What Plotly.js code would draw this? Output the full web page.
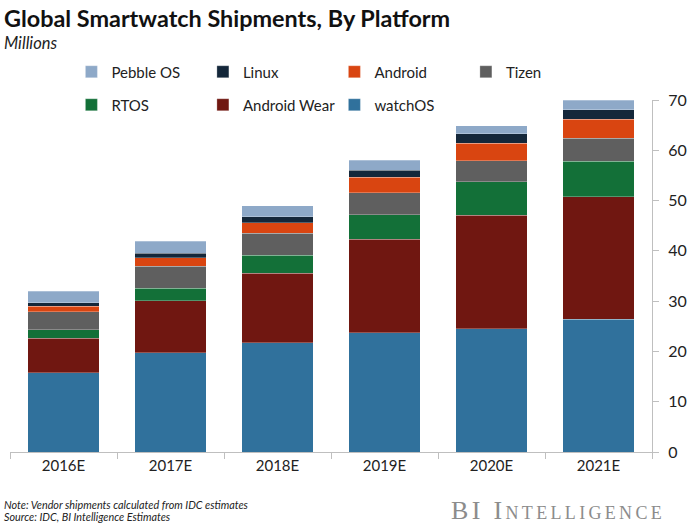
<!DOCTYPE html>
<html>
<head>
<meta charset="utf-8">
<script src="https://cdn.plot.ly/plotly-3.0.1.min.js"></script>
<style>html,body{margin:0;padding:0;background:#fff;}#chart{width:700px;height:525px;}</style>
</head>
<body>
<div id="chart"></div>
<script>
var years = ["2016E", "2017E", "2018E", "2019E", "2020E", "2021E"];
var watchOS = [15.8, 19.7, 21.7, 23.7, 24.5, 26.4];
var androidWear = [6.8, 10.4, 13.8, 18.6, 22.6, 24.4];
var rtos = [1.7, 2.5, 3.6, 4.9, 6.6, 7.0];
var tizen = [3.6, 4.3, 4.4, 4.4, 4.2, 4.6];
var android = [1.1, 1.7, 2.1, 3.0, 3.5, 3.8];
var linux = [0.7, 0.9, 1.2, 1.4, 1.9, 1.9];
var pebbleOS = [2.3, 2.4, 2.2, 2.0, 1.6, 1.9];
var yTicks = [0, 10, 20, 30, 40, 50, 60, 70];

var series = [
  {name: "watchOS", y: watchOS, color: "#30719C", legend: "legend2"},
  {name: "Android Wear", y: androidWear, color: "#701711", legend: "legend2"},
  {name: "RTOS", y: rtos, color: "#137038", legend: "legend2"},
  {name: "Tizen", y: tizen, color: "#5F5F5F", legend: "legend"},
  {name: "Android", y: android, color: "#D94511", legend: "legend"},
  {name: "Linux", y: linux, color: "#14273A", legend: "legend"},
  {name: "Pebble OS", y: pebbleOS, color: "#8EA9C8", legend: "legend"}
];

var traces = series.map(function(s) {
  return {
    type: "bar",
    name: s.name,
    x: years,
    y: s.y,
    legend: s.legend,
    marker: {color: s.color, line: {color: "rgba(255,255,255,0.45)", width: 0.6}},
    hoverinfo: "x+y+name"
  };
});

var fontFam = "Lato, 'Open Sans', sans-serif";
var legendCommon = {
  orientation: "h",
  xref: "container", yref: "container",
  xanchor: "left", yanchor: "middle",
  traceorder: "reversed",
  entrywidth: 86.5, entrywidthmode: "pixels",
  font: {family: fontFam, size: 15, color: "#222"},
  bgcolor: "rgba(0,0,0,0)",
  itemclick: false, itemdoubleclick: false
};

var layout = {
  width: 700, height: 525,
  margin: {l: 10, r: 48, t: 100, b: 73, autoexpand: false},
  paper_bgcolor: "#fff", plot_bgcolor: "#fff",
  barmode: "stack",
  bargap: 0.33,
  font: {family: fontFam, color: "#222"},
  showlegend: true,
  legend: Object.assign({}, legendCommon, {x: 0.102, y: 1 - 72 / 525}),
  legend2: Object.assign({}, legendCommon, {x: 0.102, y: 1 - 105 / 525}),
  xaxis: {
    type: "category",
    showline: true, linecolor: "#BFBFBF", linewidth: 1,
    ticks: "outside", tickson: "boundaries", ticklen: 6, tickcolor: "#BFBFBF",
    tickfont: {family: fontFam, size: 15, color: "#222"},
    showgrid: false, zeroline: false, fixedrange: true
  },
  yaxis: {
    side: "right",
    range: [0, 70],
    tickvals: yTicks,
    ticktext: yTicks.map(String),
    showline: true, linecolor: "#BFBFBF", linewidth: 1,
    ticks: "outside", ticklen: 6, tickcolor: "#BFBFBF",
    ticklabelstandoff: 6,
    tickfont: {family: fontFam, size: 16, color: "#222"},
    showgrid: false, zeroline: false, fixedrange: true
  },
  annotations: [
    {text: "<b>Global Smartwatch Shipments, By Platform</b>", xref: "paper", yref: "paper",
     xanchor: "left", yanchor: "middle", showarrow: false,
     font: {family: fontFam, size: 23.4, color: "#111"}},
    {text: "<i>Millions</i>", xref: "paper", yref: "paper", xanchor: "left", yanchor: "middle",
     showarrow: false, font: {family: fontFam, size: 16.5, color: "#222"}},
    {text: "<i>Note: Vendor shipments calculated from IDC estimates</i>", xref: "paper", yref: "paper",
     xanchor: "left", yanchor: "middle", showarrow: false, font: {family: fontFam, size: 10.8, color: "#222"}},
    {text: "<i>Source: IDC, BI Intelligence Estimates</i>", xref: "paper", yref: "paper",
     xanchor: "left", yanchor: "middle", showarrow: false, font: {family: fontFam, size: 10.8, color: "#222"}},
    {text: "BI Intelligence", xref: "paper", yref: "paper",
     xanchor: "left", yanchor: "middle", showarrow: false,
     font: {family: "'Liberation Serif', 'DejaVu Serif', serif", size: 26, color: "#8C8C8C", variant: "small-caps"}}
  ]
};

// position text annotations in pixel terms relative to the container
var W = 700, H = 525, L = 10, R = 48, T = 100, B = 73;
function px(x) { return (x - L) / (W - L - R); }
function py(y) { return (H - B - y) / (H - T - B); }
var pos = [[2, 18], [2, 43], [2, 504], [2, 516], [474, 510]];
layout.annotations.forEach(function(a, i) { a.x = px(pos[i][0]); a.y = py(pos[i][1]); });

Plotly.newPlot("chart", traces, layout, {displayModeBar: false, staticPlot: true}).then(function(gd) {
  // widen the logo's letter spacing to match the reference wordmark width
  var texts = gd.querySelectorAll(".annotation-text");
  var logo = texts[texts.length - 1];
  if (logo) {
    var w = logo.getBBox().width;
    var target = 214;
    var n = "BI Intelligence".length;
    if (w < target) logo.setAttribute("letter-spacing", ((target - w) / n).toFixed(2) + "px");
  }
});
</script>
</body>
</html>
